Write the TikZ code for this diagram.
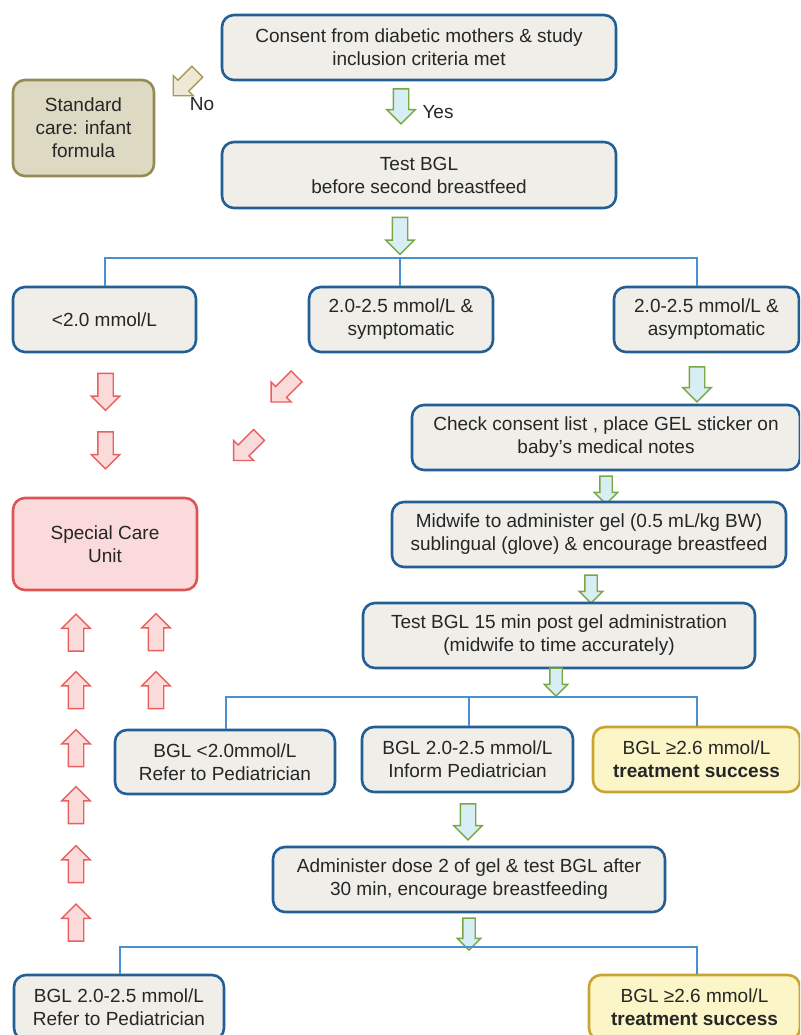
\documentclass[tikz,border=0pt]{standalone}
\usepackage{fontspec}
\setmainfont{Liberation Sans}
\usetikzlibrary{shapes.arrows}
\definecolor{boxblue}{HTML}{235E94}
\definecolor{boxfill}{HTML}{EFEEE8}
\definecolor{brk}{HTML}{4A90D0}
\definecolor{stdfill}{HTML}{DDD9C3}
\definecolor{stddraw}{HTML}{948A54}
\definecolor{scufill}{HTML}{FADADA}
\definecolor{scudraw}{HTML}{DE5353}
\definecolor{yelfill}{HTML}{FCF5C8}
\definecolor{yeldraw}{HTML}{C7A530}
\definecolor{gdraw}{HTML}{79A843}
\definecolor{gfill}{HTML}{D7EEF4}
\definecolor{rdraw}{HTML}{E86060}
\definecolor{rfill}{HTML}{FBDADA}
\definecolor{ndraw}{HTML}{A8985A}
\definecolor{nfill}{HTML}{EEE9D5}
\newcommand\fsz{\fontsize{19}{23}\selectfont}
\begin{document}
\begin{tikzpicture}[x=1pt,y=-1pt,
  box/.style={draw=boxblue, line width=2.6pt, fill=boxfill, rounded corners=12pt,
    align=center, inner sep=0pt, font=\fsz, text=black!85},
  sz/.style 2 args={minimum width=#1, minimum height=#2},
  stdbox/.style={box, draw=stddraw, fill=stdfill},
  scubox/.style={box, draw=scudraw, fill=scufill},
  yelbox/.style={box, draw=yeldraw, fill=yelfill},
  blk/.style={single arrow, line width=1.4pt, inner sep=7pt, single arrow head extend=6.5pt,
    single arrow tip angle=90, minimum width=0pt, minimum height=#1},
  blk/.default=36pt,
  smallblk/.style={blk=#1, inner sep=5.5pt, single arrow head extend=5.5pt},
  smallblk/.default=28pt,
  gcol/.style={draw=gdraw, fill=gfill},
  rcol/.style={draw=rdraw, fill=rfill},
  ncol/.style={draw=ndraw, fill=nfill},
  down/.style={shape border rotate=270},
  up/.style={shape border rotate=90},
  dl/.style={shape border rotate=270, rotate=-45},
  brkline/.style={draw=brk, line width=2pt},
  lab/.style={font=\fsz, inner sep=0pt, text=black!85}
]
\useasboundingbox (0,0) rectangle (800,1035);
\clip (0,0) rectangle (800,1035);

% top
\node[box, sz={394}{65}] (consent) at (419,47.5) {Consent from diabetic mothers \& study\\inclusion criteria met};
\node[stdbox, sz={141}{96}] (std) at (83.5,128) {Standard\\care: infant\\formula};
\node[blk=34pt, ncol, dl] (noarr) at (188,81) {};
\node[lab] (nolab) at (202,104) {No};
\node[blk=35pt, gcol, down] (yesarr) at (401,102.5) {};
\node[lab] (yeslab) at (438,112) {Yes};
\node[box, sz={394}{66}] (test1) at (419,175) {Test BGL\\before second breastfeed};
\node[blk=37pt, gcol, down] (g2) at (400,232) {};

% first branching
\coordinate (j1l) at (105,258);
\coordinate (j1m) at (400,258);
\coordinate (j1r) at (697,258);
\node[box, sz={183}{65}] (lt2) at (104.5,319.5) {<2.0 mmol/L};
\node[box, sz={184}{65}] (sym) at (401,319.5) {2.0-2.5 mmol/L \&\\symptomatic};
\node[box, sz={185}{65}] (asym) at (706.5,319.5) {2.0-2.5 mmol/L \&\\asymptomatic};
\draw[brkline] (j1l |- lt2.north) -- (j1l) -- (j1r) -- (j1r |- asym.north);
\draw[brkline] (j1m) -- (j1m |- sym.north);

% red arrows towards special care unit
\node[blk=37pt, rcol, down] (rd1) at (105.5,388) {};
\node[blk=37pt, rcol, down] (rd2) at (105.5,446.5) {};
\node[blk=36pt, rcol, dl] (rg1) at (286.5,386.5) {};
\node[blk=36pt, rcol, dl] (rg2) at (249,445) {};
\node[scubox, sz={184}{92}] (scu) at (105,544) {Special Care\\Unit};

% right column
\node[blk=35pt, gcol, down] (g3) at (697,380.5) {};
\node[box, sz={388}{65}] (check) at (606,437.5) {Check consent list , place GEL sticker on\\baby's medical notes};
\node[smallblk, gcol, down] (g4) at (606,487) {};
\node[box, sz={394}{65}] (midwife) at (589,534.5) {Midwife to administer gel (0.5 mL/kg BW)\\sublingual (glove) \& encourage breastfeed};
\node[smallblk, gcol, down] (g5) at (591,586) {};
\node[box, sz={392}{65}] (test15) at (559,635.5) {Test BGL 15 min post gel administration\\(midwife to time accurately)};
\node[smallblk, gcol, down] (g6) at (556,679) {};

% second branching
\coordinate (j2l) at (226,697);
\coordinate (j2m) at (469,697);
\coordinate (j2r) at (697,697);
\node[box, sz={220}{64}] (r1) at (225,762) {BGL <2.0mmol/L\\Refer to Pediatrician};
\node[box, sz={211}{65}] (r2) at (467.5,759.5) {BGL 2.0-2.5 mmol/L\\Inform Pediatrician};
\node[yelbox, sz={207}{65}] (r3) at (696.5,759.5) {BGL ≥2.6 mmol/L\\\textbf{treatment success}};
\draw[brkline] (j2l |- r1.north) -- (j2l) -- (j2r) -- (j2r |- r3.north);
\draw[brkline] (j2m) -- (j2m |- r2.north);

\node[blk=36pt, gcol, down] (g7) at (468,818) {};
\node[box, sz={392}{65}] (admin) at (469,879.5) {Administer dose 2 of gel \& test BGL after\\30 min, encourage breastfeeding};
\node[smallblk=32pt, gcol, down] (g8) at (469,931) {};

% third branching
\coordinate (j3l) at (120,947);
\coordinate (j3r) at (697,947);
\node[box, sz={210}{65}] (b1) at (119,1007.5) {BGL 2.0-2.5 mmol/L\\Refer to Pediatrician};
\node[yelbox, sz={211}{65}] (b2) at (694.5,1007.5) {BGL ≥2.6 mmol/L\\\textbf{treatment success}};
\draw[brkline] (j3l |- b1.north) -- (j3l) -- (j3r) -- (j3r |- b2.north);

% red up arrows
\foreach \yy [count=\i] in {636.5,694,752,809,868,926.5}
  \node[blk=37pt, rcol, up] (ua\i) at (76,\yy) {};
\foreach \yy [count=\i] in {636,694}
  \node[blk=37pt, rcol, up] (ub\i) at (156,\yy) {};
\end{tikzpicture}
\end{document}
